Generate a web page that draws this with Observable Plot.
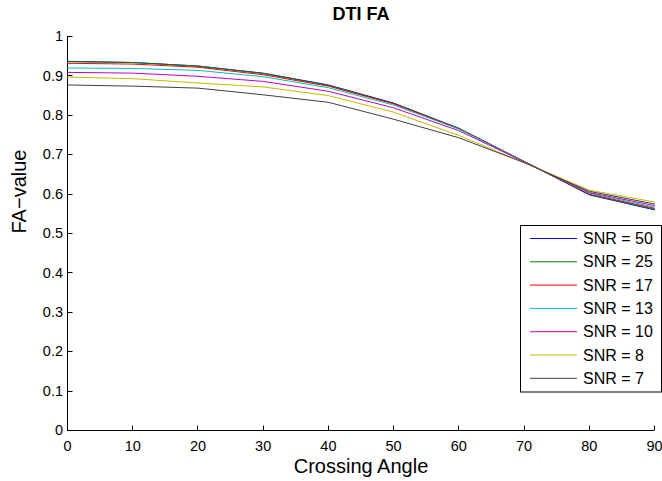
<!DOCTYPE html>
<html>
<head>
<meta charset="utf-8">
<script src="https://cdn.jsdelivr.net/npm/d3@7"></script>
<script src="https://cdn.jsdelivr.net/npm/@observablehq/plot@0.6"></script>
<style>
  html, body { margin: 0; padding: 0; background: #fff; }
</style>
</head>
<body>
<div id="chart"></div>
<script>
// Crossing angles (degrees) at which FA was evaluated
const angles = [0, 10, 20, 30, 40, 50, 60, 70, 80, 90];

// Series labels and their line colours
const seriesNames = ["SNR = 50", "SNR = 25", "SNR = 17", "SNR = 13", "SNR = 10", "SNR = 8", "SNR = 7"];
const seriesColors = ["#0000ff", "#008000", "#ff0000", "#00bfbf", "#bf00bf", "#bfbf00", "#404040"];

// Mean DTI FA per crossing angle, one array per SNR level
const snr50 = [0.937, 0.934, 0.925, 0.907, 0.877, 0.831, 0.767, 0.683, 0.598, 0.560];
const snr25 = [0.936, 0.934, 0.925, 0.906, 0.876, 0.830, 0.767, 0.683, 0.599, 0.562];
const snr17 = [0.932, 0.930, 0.922, 0.903, 0.874, 0.829, 0.766, 0.683, 0.600, 0.564];
const snr13 = [0.920, 0.919, 0.914, 0.898, 0.870, 0.826, 0.765, 0.683, 0.602, 0.567];
const snr10 = [0.909, 0.907, 0.899, 0.886, 0.861, 0.819, 0.761, 0.682, 0.604, 0.571];
const snr8  = [0.897, 0.893, 0.882, 0.872, 0.850, 0.808, 0.749, 0.680, 0.610, 0.580];
const snr7  = [0.877, 0.874, 0.869, 0.852, 0.833, 0.790, 0.743, 0.680, 0.607, 0.575];

// Axis ticks and text
const xTicks = [0, 10, 20, 30, 40, 50, 60, 70, 80, 90];
const yTicks = [0, 0.1, 0.2, 0.3, 0.4, 0.5, 0.6, 0.7, 0.8, 0.9, 1];
const titleText = "DTI FA";
const xLabelText = "Crossing Angle";
const yLabelText = "FA\u2212value";

const seriesValues = [snr50, snr25, snr17, snr13, snr10, snr8, snr7];
const rows = seriesNames.flatMap((name, i) =>
  angles.map((a, j) => ({series: name, angle: a, fa: seriesValues[i][j]}))
);

const tickFmt = d3.format("~g");

// Inward-pointing tick marks (5px) on the bottom and left axis lines
function innerTicks(index, scales) {
  const g = d3.create("svg:g").attr("stroke", "black").attr("stroke-width", 1);
  const x0 = Math.round(scales.x(0)) + 0.5;
  const y0 = Math.round(scales.y(0)) + 0.5;
  for (const t of xTicks) {
    const px = Math.round(scales.x(t)) + 0.5;
    g.append("line").attr("x1", px).attr("x2", px).attr("y1", y0).attr("y2", y0 - 5);
  }
  for (const t of yTicks) {
    const py = Math.round(scales.y(t)) + 0.5;
    g.append("line").attr("x1", x0).attr("x2", x0 + 5).attr("y1", py).attr("y2", py);
  }
  return g.node();
}

// Boxed legend in the lower right of the axes
function legendBox(index, scales, values, dimensions) {
  const g = d3.create("svg:g");
  const left = 520.5, top = 225.5, width = 141, rowStep = 23.3, firstRow = 238.5;
  g.append("rect")
    .attr("x", left).attr("y", top)
    .attr("width", width).attr("height", 166.5)
    .attr("fill", "white").attr("stroke", "black").attr("stroke-width", 1);
  seriesNames.forEach((name, i) => {
    const y = firstRow + i * rowStep;
    g.append("line")
      .attr("x1", 530).attr("x2", 577).attr("y1", y).attr("y2", y)
      .attr("stroke", seriesColors[i]).attr("stroke-width", 1);
    g.append("text")
      .attr("x", 583).attr("y", y).attr("dy", "0.35em")
      .attr("text-anchor", "start")
      .attr("font-size", 16).attr("fill", "black")
      .text(name);
  });
  return g.node();
}

const chart = Plot.plot({
  width: 662,
  height: 481,
  marginLeft: 67,
  marginRight: 8,
  marginTop: 36,
  marginBottom: 51,
  style: {
    fontFamily: "'Liberation Sans', Arial, Helvetica, sans-serif",
    fontSize: "14.5px",
    background: "white",
    color: "black"
  },
  x: {domain: [0, 90]},
  y: {domain: [0, 1]},
  color: {domain: seriesNames, range: seriesColors},
  marks: [
    Plot.axisX({ticks: xTicks, tickSize: 0, tickPadding: 10.7, tickFormat: tickFmt, label: null}),
    Plot.axisY({ticks: yTicks, tickSize: 0, tickPadding: 4.5, tickFormat: tickFmt, label: null}),
    Plot.ruleY([0], {stroke: "black"}),
    Plot.ruleX([0], {stroke: "black"}),
    innerTicks,
    Plot.line(rows, {x: "angle", y: "fa", z: "series", stroke: "series", strokeWidth: 1, curve: "linear"}),
    Plot.text([titleText], {frameAnchor: "top", lineAnchor: "bottom", dy: -17, fontSize: 18, fontWeight: "bold", fill: "black"}),
    Plot.text([xLabelText], {frameAnchor: "bottom", lineAnchor: "bottom", dy: 42, fontSize: 20, fill: "black"}),
    Plot.text([yLabelText], {frameAnchor: "left", lineAnchor: "bottom", rotate: -90, dx: -42, fontSize: 20, fill: "black"}),
    legendBox
  ]
});

document.getElementById("chart").appendChild(chart);
</script>
</body>
</html>
